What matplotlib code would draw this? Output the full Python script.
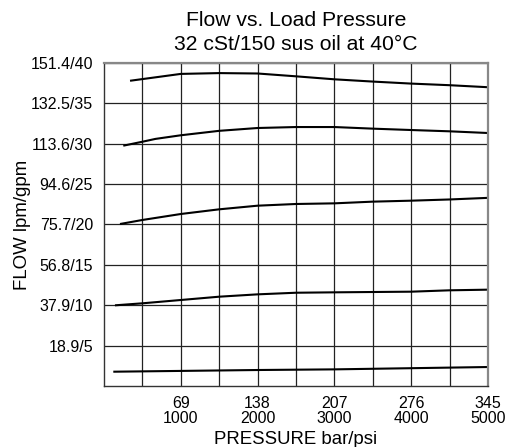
import matplotlib
matplotlib.use("Agg")
import matplotlib.pyplot as plt
import numpy as np

plt.rcParams['font.family'] = ['Liberation Sans', 'DejaVu Sans']

# Data (pressure in psi, flow in gpm)
c1_x = [339, 1000, 1500, 2000, 2500, 3000, 3500, 4000, 4500, 5000]
c1_y = [37.8, 38.65, 38.75, 38.7, 38.35, 37.98, 37.7, 37.45, 37.25, 37.0]
c2_x = [251, 500, 670, 1000, 1500, 2000, 2500, 3000, 3500, 4000, 4500, 5000]
c2_y = [29.76, 30.25, 30.6, 31.05, 31.6, 31.95, 32.07, 32.07, 31.87, 31.7, 31.54, 31.33]
c3_x = [208, 500, 1000, 1500, 2000, 2500, 3000, 3500, 4000, 4500, 5000]
c3_y = [20.06, 20.56, 21.3, 21.88, 22.33, 22.54, 22.62, 22.83, 22.95, 23.1, 23.3]
c4_x = [143, 500, 1000, 1500, 2000, 2500, 3000, 3500, 4000, 4500, 5000]
c4_y = [9.99, 10.24, 10.65, 11.06, 11.35, 11.55, 11.6, 11.64, 11.68, 11.85, 11.93]
c5_x = [121, 2000, 3000, 5000]
c5_y = [1.77, 1.98, 2.06, 2.35]

x_ticks = [1000, 2000, 3000, 4000, 5000]
x_labels = ["69\n1000", "138\n2000", "207\n3000", "276\n4000", "345\n5000"]
y_ticks = [5, 10, 15, 20, 25, 30, 35, 40]
y_labels = ["18.9/5", "37.9/10", "56.8/15", "75.7/20", "94.6/25", "113.6/30", "132.5/35", "151.4/40"]

fig = plt.figure(figsize=(5.09, 4.47), dpi=100)
ax = fig.add_axes([104/509, 61/447, 384/509, 323/447])

ax.set_xlim(0, 5000)
ax.set_ylim(0, 40)

ax.set_xticks(np.arange(500, 5000, 500), minor=True)
ax.set_xticks(x_ticks)
ax.set_xticklabels(x_labels, fontsize=11.5, linespacing=1.0)
ax.set_yticks(y_ticks)
ax.set_yticklabels(y_labels, fontsize=11.5)
ax.tick_params(which='both', length=0)
ax.tick_params(axis='y', pad=8)
ax.tick_params(axis='x', pad=7)
ax.grid(True, which='both', color='#222222', linewidth=0.9)
ax.set_axisbelow(True)

for s in ['left', 'bottom']:
    ax.spines[s].set_color('#333333')
    ax.spines[s].set_linewidth(1.0)
for s in ['top', 'right']:
    ax.spines[s].set_color('#888888')
    ax.spines[s].set_linewidth(1.6)

for xs, ys in [(c1_x, c1_y), (c2_x, c2_y), (c3_x, c3_y), (c4_x, c4_y), (c5_x, c5_y)]:
    ax.plot(xs, ys, color='black', linewidth=1.5, solid_capstyle='butt')

ax.set_xlabel("PRESSURE bar/psi", fontsize=13.4, labelpad=4)
ax.set_ylabel("FLOW lpm/gpm", fontsize=13.4)
ax.yaxis.set_label_coords(-0.19, 0.5)
fig.text(296/509, 1 - 20/447, "Flow vs. Load Pressure", fontsize=15.2, ha='center', va='center')
fig.text(296/509, 1 - 45/447, "32 cSt/150 sus oil at 40°C", fontsize=15.2, ha='center', va='center')

fig.savefig("out.png", dpi=100)
